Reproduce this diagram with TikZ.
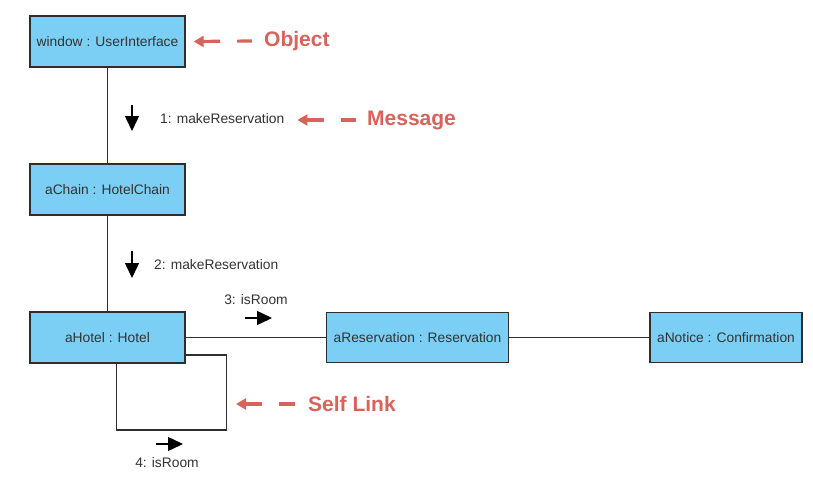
\documentclass[tikz,border=0pt]{standalone}
\usepackage{fontspec}
\setmainfont{Liberation Sans}
\usetikzlibrary{arrows.meta,calc}
\definecolor{boxfill}{HTML}{7BCFF4}
\definecolor{boxline}{HTML}{2E2E2E}
\definecolor{annot}{HTML}{D8635B}
\definecolor{txt}{HTML}{333333}
\tikzset{
  obj/.style={draw=boxline, line width=1.3pt, fill=boxfill, minimum height=51pt,
    inner sep=0pt, font=\fontsize{13.8}{16}\selectfont, text=txt},
  link/.style={draw=boxline, line width=1.3pt},
  msgarrow/.style={line width=1.5pt, -{Triangle[width=14pt,length=15pt]}},
  msglabel/.style={inner sep=0pt, font=\fontsize{13.8}{16}\selectfont, text=txt},
  annotlabel/.style={inner sep=0pt, font=\fontsize{21}{24}\selectfont\bfseries, text=annot},
  annotarrow/.style={draw=annot, line width=3.2pt, dash pattern=on 17pt off 17pt on 40pt off 10pt,
    {Triangle[width=11pt,length=10pt]}-}
}
\begin{document}
\begin{tikzpicture}[x=1pt,y=-1pt]
\useasboundingbox[fill=white] (0,0) rectangle (813,485);

% objects
\node[obj, minimum width=155pt] (win) at (107.5,41.5) {window : UserInterface};
\node[obj, minimum width=155pt] (chain) at (107.5,189.5) {aChain : HotelChain};
\node[obj, minimum width=155pt] (hotel) at (107.5,337.5) {aHotel : Hotel};
\node[obj, minimum width=182pt, minimum height=50pt] (res) at (417.5,337.5) {aReservation : Reservation};
\node[obj, minimum width=152pt, minimum height=50pt] (notice) at (726,337.5) {aNotice : Confirmation};

% links
\draw[link] (win.south) -- (chain.north);
\draw[link] (chain.south) -- (hotel.north);
\draw[link] (hotel.east) -- (res.west);
\draw[link] (res.east) -- (notice.west);
\draw[link] ($(hotel.east)+(0,17.5)$) -| ++(41,75) -| ($(hotel.south west)+(87,0)$);

% messages
\draw[msgarrow] (132,105) -- (132,131);
\node[msglabel, anchor=west] (m1) at (160,119) {1: makeReservation};
\draw[msgarrow] (132,251) -- (132,278);
\node[msglabel, anchor=west] (m2) at (154,265) {2: makeReservation};
\draw[msgarrow] (245,318) -- (272,318);
\node[msglabel] (m3) at (256,300) {3: isRoom};
\draw[msgarrow] (156,444) -- (183,444);
\node[msglabel] (m4) at (167,463) {4: isRoom};

% annotations
\node[annotlabel, anchor=west] (lobj) at (264,41) {Object};
\draw[annotarrow] ([xshift=8pt]win.east) -- ([xshift=-12pt]lobj.west);
\node[annotlabel, anchor=west] (lmsg) at (367,120) {Message};
\draw[annotarrow] ([xshift=13pt]m1.east |- lmsg.west) -- ([xshift=-11pt]lmsg.west);
\node[annotlabel, anchor=west] (lself) at (308,404) {Self Link};
\draw[annotarrow] (236,404) -- ([xshift=-13pt]lself.west);
\end{tikzpicture}
\end{document}
